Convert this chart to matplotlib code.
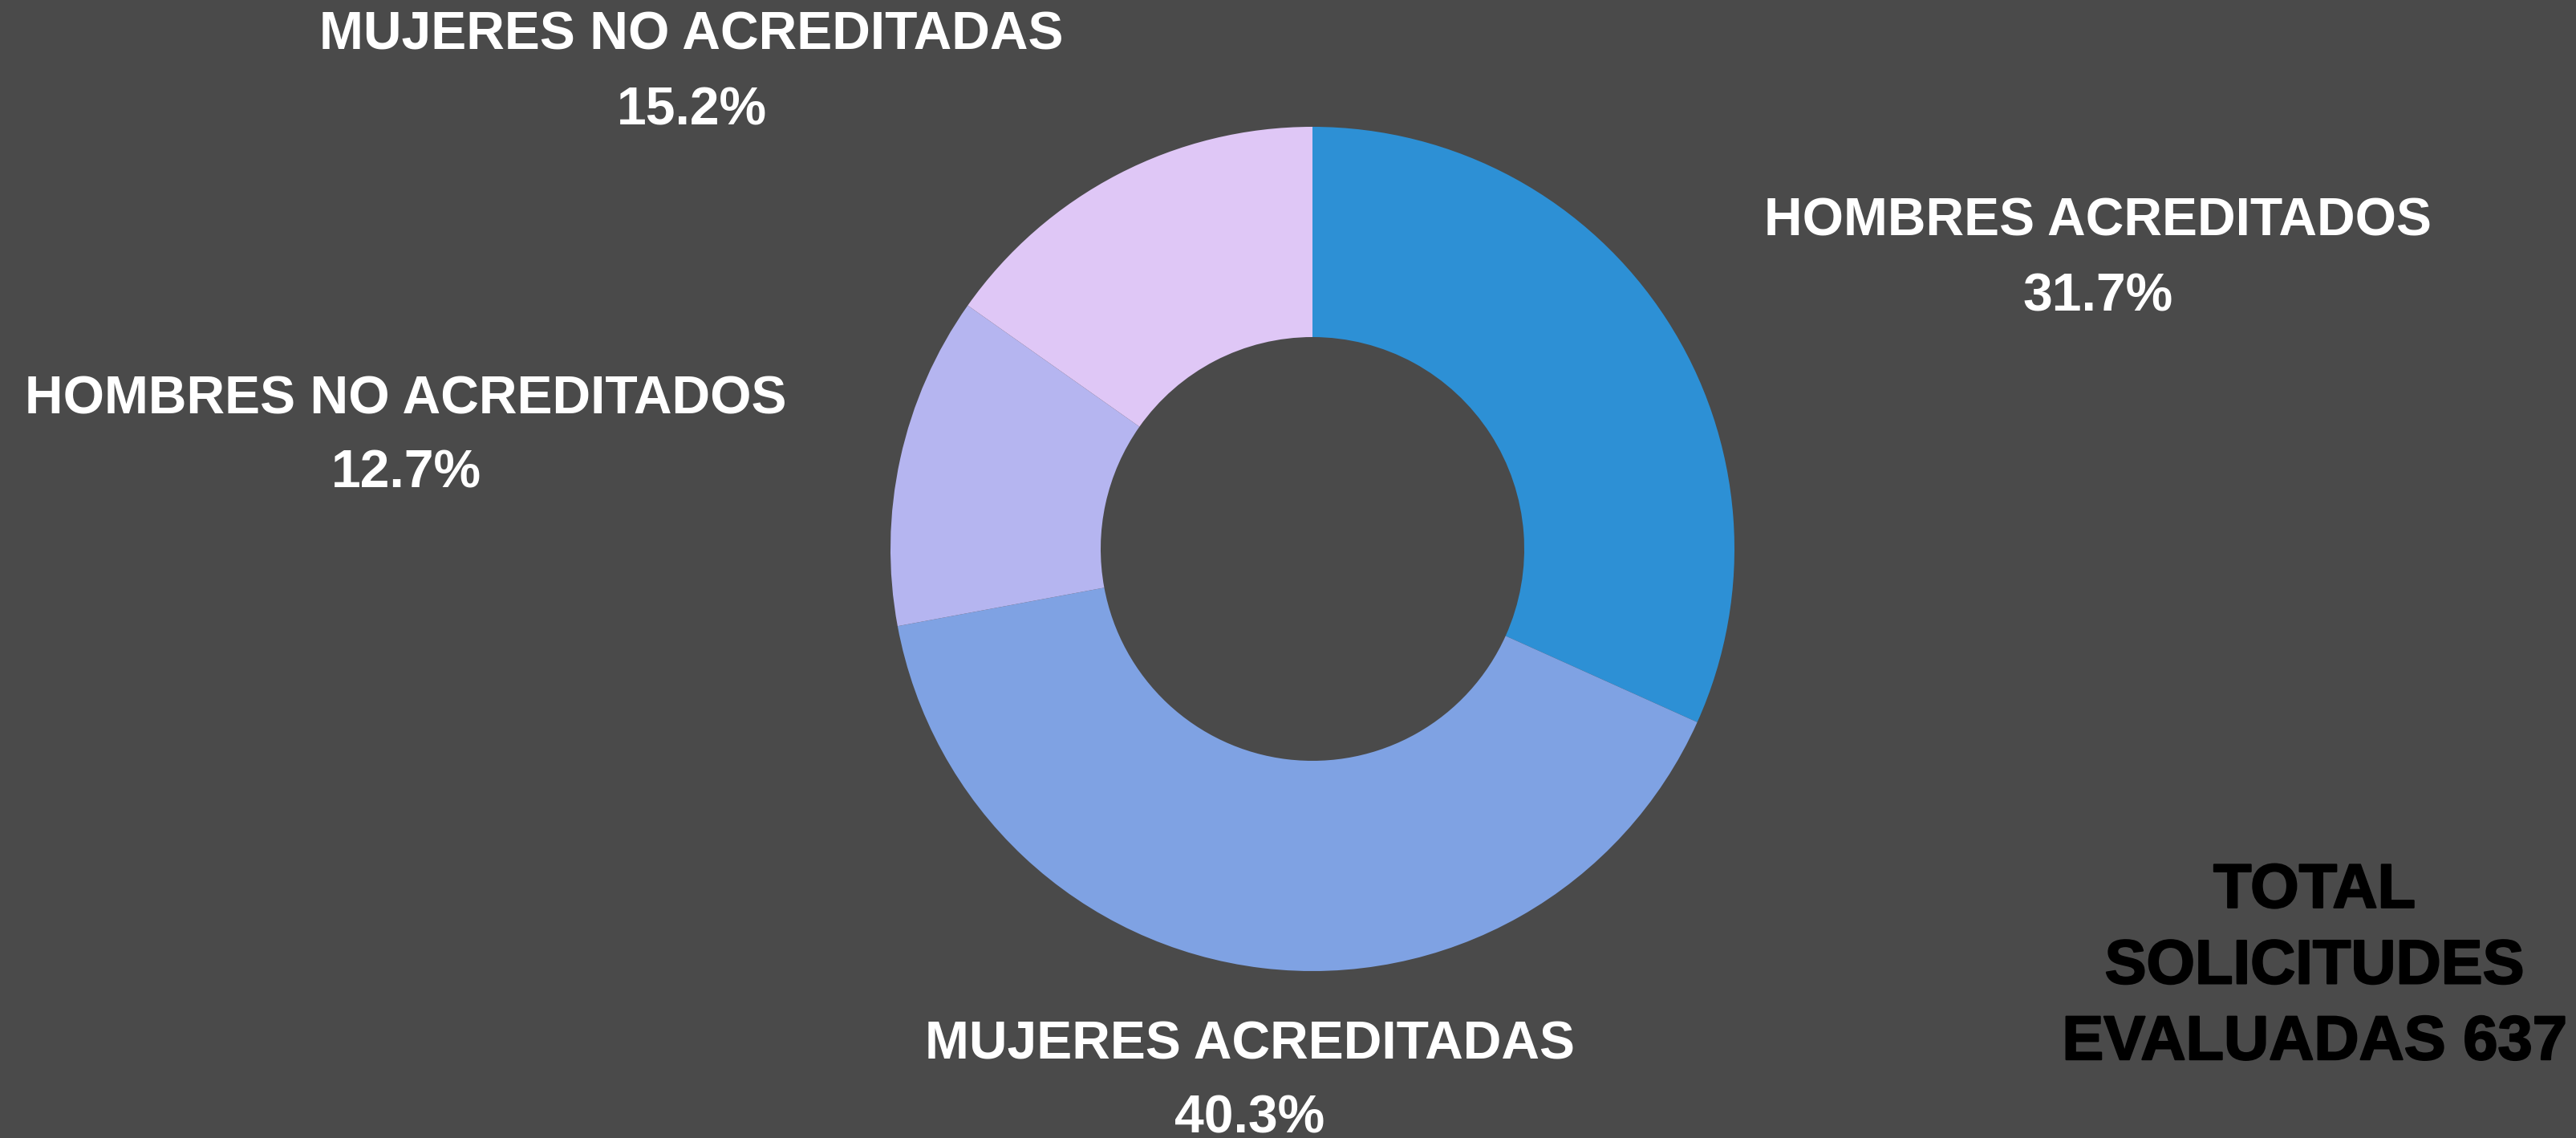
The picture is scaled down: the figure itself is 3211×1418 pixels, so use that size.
import matplotlib
matplotlib.use("Agg")
import matplotlib.pyplot as plt
import matplotlib.patheffects as pe

# data
categories = ["HOMBRES ACREDITADOS", "MUJERES ACREDITADAS",
              "HOMBRES NO ACREDITADOS", "MUJERES NO ACREDITADAS"]
shares = [31.7, 40.3, 12.7, 15.2]
colors = ["#2D90D5", "#7FA2E3", "#B5B5F0", "#DFC7F6"]
total_text = "TOTAL\nSOLICITUDES\nEVALUADAS 637"

W, H = 3211, 1418
bg = "#4A4A4A"

fig = plt.figure(figsize=(W / 100, H / 100), dpi=100, facecolor=bg)
ax = fig.add_axes([0, 0, 1, 1])
ax.set_facecolor(bg)

cx, cy = 1636, H - 684
r_out, r_in = 526, 264
ax.pie(shares, colors=colors, startangle=90, counterclock=False,
       center=(cx, cy), radius=r_out,
       wedgeprops={"width": r_out - r_in, "linewidth": 0})
ax.set_xlim(0, W)
ax.set_ylim(0, H)
ax.set_aspect("equal")
ax.axis("off")

label_font = ["Liberation Sans", "DejaVu Sans"]
# label anchor points (pixels from top-left): name line, percent line
label_pos = {
    "HOMBRES ACREDITADOS": (2615, 276, 371),
    "MUJERES ACREDITADAS": (1558, 1302, 1395),
    "HOMBRES NO ACREDITADOS": (506, 498, 590),
    "MUJERES NO ACREDITADAS": (862, 45, 139),
}
for name, val in zip(categories, shares):
    x, y1, y2 = label_pos[name]
    ax.text(x, H - y1, name, ha="center", va="center", color="white",
            fontsize=47.5, fontweight="bold", family=label_font)
    ax.text(x, H - y2, f"{val:.1f}%", ha="center", va="center",
            color="white", fontsize=47.5, fontweight="bold", family=label_font)

ax.text(2885, H - 1205, total_text, ha="center", va="center", color="black",
        fontsize=56, fontweight="bold", family=["Liberation Sans", "DejaVu Sans"],
        linespacing=1.38,
        path_effects=[pe.withStroke(linewidth=1.5, foreground="black")])

fig.savefig("out.png", dpi=100, facecolor=bg)
